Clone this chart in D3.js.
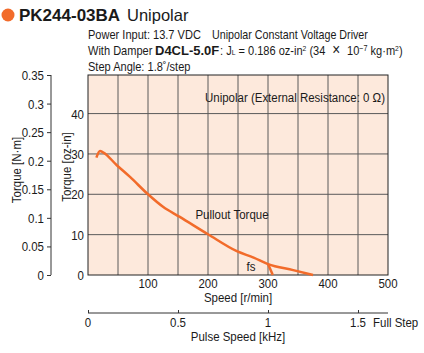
<!DOCTYPE html>
<html>
<head>
<meta charset="utf-8">
<script src="https://cdn.jsdelivr.net/npm/d3@7"></script>
<style>
  body { margin: 0; background: #fff; }
  svg text { font-family: "Liberation Sans", Arial, sans-serif; fill: #1a1a1a; }
</style>
</head>
<body>
<div id="chart"></div>
<script>
// Pullout torque curve (speed r/min, torque oz-in)
const speedRpm = [14, 20, 25, 48, 70, 100, 125, 153, 200, 248, 276, 300, 342, 375];
const torqueOzIn = [29.1, 30.7, 30.4, 27.2, 24.3, 20, 16.9, 14.4, 10.1, 5.9, 4.3, 2.7, 1.2, 0];

// fs line (starting frequency)
const fsSpeed = [300, 308];
const fsTorque = [2.7, 0];

// Ticks
const speedTicks = [100, 200, 300, 400, 500];
const speedGrid = [50, 100, 150, 200, 250, 300, 350, 400, 450];
const ozTicks = [0, 10, 20, 30, 40];
const nmTicks = [0, 0.05, 0.1, 0.15, 0.2, 0.25, 0.3, 0.35];
const khzTicks = [0, 0.5, 1, 1.5];

const NM_TO_OZIN = 141.612;
const SQ = 0.85; // condensed look

// Dimensions
const W = 424, H = 353;
const margin = { top: 75, left: 88 };
const width = 300, height = 200;

const svg = d3.select("#chart").append("svg")
    .attr("width", W)
    .attr("height", H);

// condensed text helper
function ctext(sel, x, y, str, size, anchor, rot) {
    return sel.append("text")
        .attr("transform", `translate(${x},${y})` + (rot ? ` rotate(${rot})` : "") + ` scale(${SQ},1)`)
        .attr("text-anchor", anchor || "start")
        .style("font-size", (size || 13) + "px")
        .text(str);
}

// Scales
const x = d3.scaleLinear().domain([0, 500]).range([margin.left, margin.left + width]);
const yOz = d3.scaleLinear().domain([0, 0.35 * NM_TO_OZIN]).range([margin.top + height, margin.top]);
const yNm = d3.scaleLinear().domain([0, 0.35]).range([margin.top + height, margin.top]);
const xKhz = d3.scaleLinear().domain([0, 500 / 300]).range([margin.left, margin.left + width]);

// Title
svg.append("circle").attr("cx", 8).attr("cy", 15).attr("r", 6.5).attr("fill", "#F26B2A");
svg.append("text").attr("x", 19).attr("y", 21)
    .style("font-size", "17px").style("font-weight", "bold").text("PK244-03BA");
svg.append("text").attr("x", 127).attr("y", 21)
    .style("font-size", "16.5px").text("Unipolar");

// Conditions
ctext(svg, 88, 39, "Power Input: 13.7 VDC", 13);
ctext(svg, 212, 39, "Unipolar Constant Voltage Driver", 12.6);
ctext(svg, 88, 55, "With Damper", 13);
svg.append("text").attr("x", 155).attr("y", 55)
    .style("font-size", "13px").style("font-weight", "bold").text("D4CL-5.0F");
const l2 = ctext(svg, 220, 55, ": J", 13);
l2.append("tspan").style("font-size", "8px").text("L");
l2.append("tspan").text(" = 0.186 oz-in");
l2.append("tspan").style("font-size", "8px").attr("dy", -4).text("2");
l2.append("tspan").attr("dy", 4).text(" (34 ");
l2.append("tspan").style("font-size", "16px").text("\u00a0\u00d7\u00a0");
l2.append("tspan").text(" 10");
l2.append("tspan").style("font-size", "8.5px").attr("dy", -4).text("\u22127");
l2.append("tspan").attr("dy", 4).text(" kg\u00b7m");
l2.append("tspan").style("font-size", "8px").attr("dy", -4).text("2");
l2.append("tspan").attr("dy", 4).text(")");
ctext(svg, 88, 71, "Step Angle: 1.8\u02da/step", 13);

// Plot background
svg.append("rect")
    .attr("x", x(0)).attr("y", margin.top)
    .attr("width", width).attr("height", height)
    .attr("fill", "#FDE9DC");

// Grid
svg.append("g").selectAll("line").data(speedGrid).enter().append("line")
    .attr("x1", d => x(d)).attr("x2", d => x(d))
    .attr("y1", margin.top).attr("y2", margin.top + height)
    .attr("stroke", "#5a5a5a").attr("stroke-width", 1);
svg.append("g").selectAll("line").data(ozTicks.slice(1)).enter().append("line")
    .attr("x1", x(0)).attr("x2", x(500))
    .attr("y1", d => yOz(d)).attr("y2", d => yOz(d))
    .attr("stroke", "#5a5a5a").attr("stroke-width", 1);

// Frame
svg.append("rect")
    .attr("x", x(0)).attr("y", margin.top)
    .attr("width", width).attr("height", height)
    .attr("fill", "none").attr("stroke", "#222").attr("stroke-width", 1);

// Curve
const line = d3.line().x(d => x(d[0])).y(d => yOz(d[1])).curve(d3.curveMonotoneX);
svg.append("path")
    .datum(speedRpm.map((s, i) => [s, torqueOzIn[i]]))
    .attr("d", line)
    .attr("fill", "none").attr("stroke", "#F26B2A").attr("stroke-width", 2.5);
svg.append("path")
    .datum(fsSpeed.map((s, i) => [s, fsTorque[i]]))
    .attr("d", d3.line().x(d => x(d[0])).y(d => yOz(d[1])))
    .attr("fill", "none").attr("stroke", "#F26B2A").attr("stroke-width", 2.5);

// Annotations
ctext(svg, 385, 102, "Unipolar (External Resistance: 0 \u03a9)", 13.5, "end");
ctext(svg, 232, 219, "Pullout Torque", 13.5, "middle");
ctext(svg, 251, 271, "fs", 13.5, "middle");

// oz-in labels
ozTicks.forEach(d => ctext(svg, 84, yOz(d) + 5, d, 13.5, "end"));

// N·m axis
const nmAxis = svg.append("g")
    .attr("transform", "translate(51,0)")
    .call(d3.axisLeft(yNm).tickValues(nmTicks).tickSize(4).tickFormat(""));
nmAxis.select(".domain").attr("stroke", "#333").attr("d", `M-0,${yNm(0)}V${yNm(0.35)}`);
nmAxis.selectAll(".tick line").attr("stroke", "#333");
nmTicks.forEach(d => ctext(svg, 44, yNm(d) + 5, d3.format("")(d), 13.5, "end"));

// Speed labels
speedTicks.forEach(d => ctext(svg, x(d), 288, d, 13.5, "middle"));
ctext(svg, x(250), 302, "Speed [r/min]", 13.5, "middle");

// Pulse speed axis
const khzAxis = svg.append("g")
    .attr("transform", "translate(0,313)")
    .call(d3.axisTop(xKhz).tickValues(khzTicks).tickSize(3).tickFormat(""));
khzAxis.select(".domain").attr("stroke", "#333").attr("d", `M${xKhz(0)},0H${xKhz.range()[1]}`);
khzAxis.selectAll(".tick line").attr("stroke", "#333");
khzTicks.forEach(d => ctext(svg, xKhz(d), 327, d3.format("")(d), 13.5, "middle"));
ctext(svg, 373, 327, "Full Step", 13.5);
ctext(svg, x(250), 341, "Pulse Speed [kHz]", 13.5, "middle");

// Axis titles
ctext(svg, 21, 170, "Torque [N\u00b7m]", 13.5, "middle", -90);
ctext(svg, 71, 167, "Torque [oz-in]", 13.5, "middle", -90);
</script>
</body>
</html>
